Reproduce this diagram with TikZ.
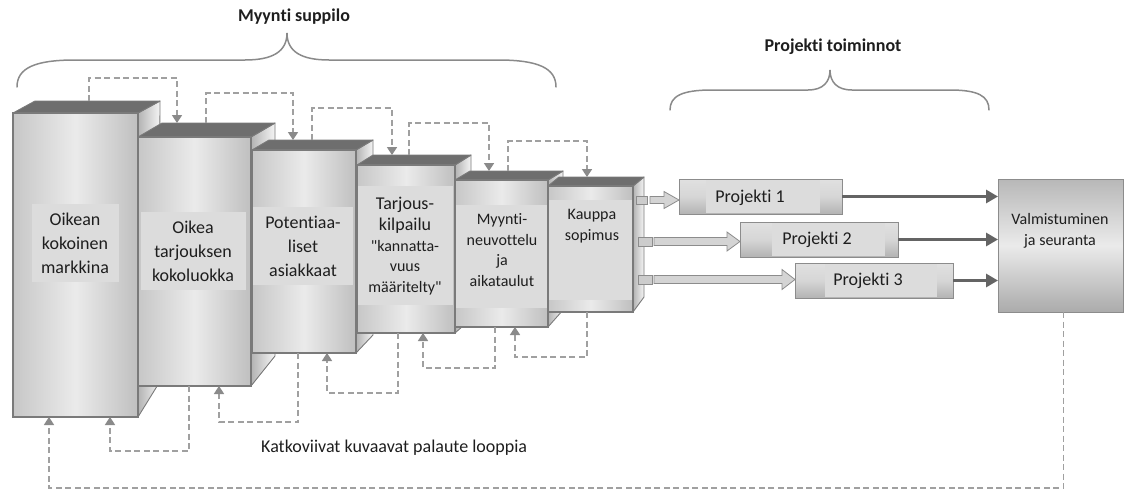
\documentclass[tikz,border=0pt]{standalone}
\usepackage{fontspec}
\setmainfont{Carlito}[Ligatures={NoCommon}]
\newfontfamily\plainfont{Carlito}
\usetikzlibrary{arrows.meta,calc}

\definecolor{edgec}{HTML}{7A7A7A}
\definecolor{topc}{HTML}{6E6E6E}
\definecolor{labelbg}{HTML}{DCDCDC}
\definecolor{dashc}{HTML}{A0A0A0}
\definecolor{dashtip}{HTML}{8A8A8A}
\definecolor{bracec}{HTML}{8A8A8A}
\definecolor{thickc}{HTML}{646464}
\definecolor{txt}{HTML}{1E1E1E}

% one stage of the funnel: side face, top face and the front face node
% #1 name, (#2,#3) front top-left, (#4,#5) front bottom-right,
% (#6,#7) depth at the top, (#8,#9) depth at the bottom
\newcommand{\funnelstage}[9]{%
  \path[sideface] (#4,#3) -- ++(#6,#7) -- ($(#4,#5)+(#8,#9)$) -- (#4,#5) -- cycle;
  \draw[edgeline] (#4,#3) -- ++(#6,#7) -- ($(#4,#5)+(#8,#9)$) -- (#4,#5);
  \filldraw[topface] (#2,#3) -- ++(#6,#7) -- ($(#4,#3)+(#6,#7)$) -- (#4,#3) -- cycle;
  \node[front, minimum width={#4-#2}, minimum height={#5-#3}] (#1) at (#2,#3) {};
}
% straight double quote
\newcommand{\sq}{{\plainfont"}}

\tikzset{
  sideface/.style={left color=black!30, right color=black!4},
  edgeline/.style={draw=edgec, line width=0.9pt, line join=round},
  topface/.style={fill=topc, draw=edgec, line width=0.9pt, line join=round},
  front/.style={anchor=north west, inner sep=0pt, outer sep=0pt,
    draw=edgec, line width=1.1pt,
    left color=black!22, right color=black!25, middle color=black!8},
  labelrect/.style={anchor=north west, inner sep=0pt, outer sep=0pt, fill=labelbg},
  lbl/.style={align=center, inner sep=0pt, text=txt, font=\fontsize{18}{24}\selectfont},
  lblsmall/.style={align=center, inner sep=0pt, text=txt, font=\fontsize{16}{20.5}\selectfont},
  title/.style={inner sep=0pt, text=txt, font=\fontsize{18}{22}\selectfont\bfseries},
  fb/.style={draw=dashc, line width=1.7pt, dash pattern=on 6pt off 3.5pt,
    -{Triangle[length=8pt,width=10pt,color=dashtip,fill=dashtip]}},
  projbox/.style={anchor=north west, inner sep=0pt, outer sep=0pt,
    draw=black!45, line width=1pt,
    top color=black!12, bottom color=black!30, middle color=black!16},
  projin/.style={anchor=north west, inner sep=0pt, outer sep=0pt, fill=labelbg},
  portsq/.style={inner sep=0pt, outer sep=0pt, fill=black!20, draw=black!45, line width=0.8pt},
  blockarrow/.style={fill=black!17, draw=black!45, line width=0.8pt, line join=miter},
  thickarrow/.style={draw=thickc, line width=3.5pt,
    -{Triangle[length=12pt,width=13pt,color=thickc,fill=thickc]}},
  endbox/.style={anchor=north west, inner sep=0pt, outer sep=0pt,
    draw=black!45, line width=1pt,
    top color=black!28, bottom color=black!33, middle color=black!8},
  bracestyle/.style={draw=bracec, line width=1.5pt, line cap=round}
}

\begin{document}
\begin{tikzpicture}[x=1pt, y=-1pt]
\useasboundingbox (0,0) rectangle (1124,490);

% funnel stages, back to front
\funnelstage{b1}{13}{113}{138}{417}{22}{-12}{21}{-34}
\funnelstage{b2}{138}{137}{251}{386}{24}{-14}{24}{-30}
\funnelstage{b3}{252}{150}{356}{353}{17}{-10}{17}{-18}
\funnelstage{b4}{357}{165}{455}{333}{16}{-10}{16}{-14}
\funnelstage{b5}{455}{180}{548}{327}{15}{-9}{15}{-17}
\funnelstage{b6}{548}{186}{633}{312}{11}{-9}{11}{-15}

% label panels
\node[labelrect, minimum width=87,  minimum height=78]  (l1) at (32,204) {};
\node[labelrect, minimum width=105, minimum height=78]  (l2) at (141,212) {};
\node[labelrect, minimum width=100, minimum height=78]  (l3) at (253,207) {};
\node[labelrect, minimum width=95,  minimum height=119] (l4) at (358,186) {};
\node[labelrect, minimum width=91,  minimum height=103] (l5) at (456,205) {};
\node[labelrect, minimum width=83,  minimum height=100] (l6) at (549,200) {};

\node[lbl] (t1) at (75,243) {Oikean\\kokoinen\\markkina};
\node[lbl] (t2) at (193,251) {Oikea\\tarjouksen\\kokoluokka};
\node[lbl] (t3) at (303,246) {Potentiaa-\\liset\\asiakkaat};
\node[lblsmall] (t4) at (405,246) {{\fontsize{18}{22}\selectfont Tarjous-}\\[1pt]{\fontsize{18}{22}\selectfont kilpailu}\\\sq kannatta-\\vuus\\määritelty\sq};
\node[lblsmall] (t5) at (502,250) {Myynti-\\neuvottelu\\ja\\aikataulut};
\node[lblsmall] (t6) at (592,226) {Kauppa\\sopimus};

% project bars
\node[projbox, minimum width=163, minimum height=35] (p1) at (679,179) {};
\node[projbox, minimum width=158, minimum height=35] (p2) at (740,222) {};
\node[projbox, minimum width=158, minimum height=35] (p3) at (795,263) {};
\node[projin, minimum width=114, minimum height=33] (q1) at (706,180) {};
\node[projin, minimum width=113, minimum height=33] (q2) at (772,223) {};
\node[projin, minimum width=112, minimum height=33] (q3) at (825,264) {};
\node[lbl] (pt1) at (750,198) {Projekti 1};
\node[lbl] (pt2) at (817,240) {Projekti 2};
\node[lbl] (pt3) at (868,281) {Projekti 3};

% completion box
\node[endbox, minimum width=125, minimum height=133] (v) at (998,179) {};
\node[lblsmall] (vt) at (1060,231) {Valmistuminen\\ja seuranta};

% ports on the last stage and block arrows into the projects
\node[portsq, minimum width=11, minimum height=8] (s1) at (641.5,200) {};
\node[portsq, minimum width=14, minimum height=9] (s2) at (645,241.5) {};
\node[portsq, minimum width=14, minimum height=9] (s3) at (645,279.5) {};

\filldraw[blockarrow] let \p1=(s1.east), \p2=(p1.west) in
  (\x1+3pt,\y1+3.5pt) -- (\x2-15pt,\y1+3.5pt) -- (\x2-15pt,\y1+8.5pt) -- (\x2,\y1)
  -- (\x2-15pt,\y1-8.5pt) -- (\x2-15pt,\y1-3.5pt) -- (\x1+3pt,\y1-3.5pt) -- cycle;
\filldraw[blockarrow] let \p1=(s2.east), \p2=(p2.west) in
  (\x1+2pt,\y1+4pt) -- (\x2-13pt,\y1+4pt) -- (\x2-13pt,\y1+9.5pt) -- (\x2,\y1)
  -- (\x2-13pt,\y1-9.5pt) -- (\x2-13pt,\y1-4pt) -- (\x1+2pt,\y1-4pt) -- cycle;
\filldraw[blockarrow] let \p1=(s3.east), \p2=(p3.west) in
  (\x1+2pt,\y1+4pt) -- (\x2-13pt,\y1+4pt) -- (\x2-13pt,\y1+10pt) -- (\x2,\y1)
  -- (\x2-13pt,\y1-10pt) -- (\x2-13pt,\y1-4pt) -- (\x1+2pt,\y1-4pt) -- cycle;

% projects into completion
\draw[thickarrow] (p1.east) -- (p1.east -| v.west);
\draw[thickarrow] (p2.east) -- (p2.east -| v.west);
\draw[thickarrow] (p3.east) -- (p3.east -| v.west);

% forward loops over the tops
\draw[fb] ($(b1.north west)+(76,-12)$) -- ++(0,-23) -| ($(b2.north west)+(39,-14)$);
\draw[fb] ($(b2.north west)+(68,-14)$) -- ++(0,-30) -| ($(b3.north west)+(41,-10)$);
\draw[fb] ($(b3.north west)+(60,-10)$) -- ++(0,-32) -| ($(b4.north west)+(35,-10)$);
\draw[fb] ($(b4.north west)+(52,-10)$) -- ++(0,-32) -| ($(b5.north west)+(34,-9)$);
\draw[fb] ($(b5.north west)+(53,-9)$)  -- ++(0,-30) -| ($(b6.north west)+(39,-9)$);

% feedback loops under the bottoms
\draw[fb] ($(b6.south west)+(39,0)$) -- ++(0,45) -| ($(b5.south west)+(60,0)$);
\draw[fb] ($(b5.south west)+(40,0)$) -- ++(0,41) -| ($(b4.south west)+(66,0)$);
\draw[fb] ($(b4.south west)+(41,0)$) -- ++(0,60) -| ($(b3.south west)+(75,0)$);
\draw[fb] ($(b3.south west)+(46,0)$) -- ++(0,69) -| ($(b2.south west)+(81,0)$);
\draw[fb] ($(b2.south west)+(51,0)$) -- ++(0,65) -| ($(b1.south west)+(97,0)$);
\draw[fb] ($(v.south)+(3,0)$) -- ++(0,176) -| ($(b1.south west)+(36,0)$);

% braces and headings
\draw[bracestyle] (17,87) .. controls (17,68) and (35,60) .. (75,60) -- (245,60)
  .. controls (272,60) and (287,52) .. (287,33)
  .. controls (287,52) and (302,60) .. (329,60) -- (498,60)
  .. controls (538,60) and (556,68) .. (556,87);
\draw[bracestyle] (670,110) .. controls (670,96) and (682,90) .. (712,90) -- (808,90)
  .. controls (823,90) and (830,82) .. (830,70)
  .. controls (830,82) and (837,90) .. (852,90) -- (950,90)
  .. controls (978,90) and (989,96) .. (989,110);

\node[title] (h1) at (294,17) {Myynti suppilo};
\node[title] (h2) at (833,47) {Projekti toiminnot};

\node[anchor=base west, inner sep=0pt, text=txt, font=\fontsize{18}{22}\selectfont] (note) at (261,452) {Katkoviivat kuvaavat palaute looppia};
\end{tikzpicture}
\end{document}
